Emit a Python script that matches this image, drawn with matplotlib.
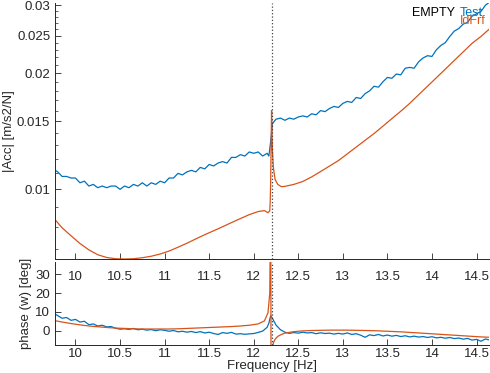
import numpy as np
import matplotlib.pyplot as plt
from matplotlib.ticker import FixedLocator, NullLocator

# measured FRF (Test)
test_freq = [9.75, 9.80, 9.85, 9.90, 9.95, 10.00, 10.05, 10.10, 10.15, 10.20,
             10.25, 10.30, 10.35, 10.40, 10.45, 10.50, 10.55, 10.60, 10.65, 10.70,
             10.75, 10.80, 10.85, 10.90, 10.95, 11.00, 11.05, 11.10, 11.15, 11.20,
             11.25, 11.30, 11.35, 11.40, 11.45, 11.50, 11.55, 11.60, 11.65, 11.70,
             11.75, 11.80, 11.85, 11.90, 11.95, 12.00, 12.05, 12.10, 12.15, 12.17,
             12.19, 12.21, 12.25, 12.30, 12.35, 12.40, 12.45, 12.50, 12.55, 12.60,
             12.65, 12.70, 12.75, 12.80, 12.85, 12.90, 12.95, 13.00, 13.05, 13.10,
             13.15, 13.20, 13.25, 13.30, 13.35, 13.40, 13.45, 13.50, 13.55, 13.60,
             13.65, 13.70, 13.75, 13.80, 13.85, 13.90, 13.95, 14.00, 14.05, 14.10,
             14.15, 14.20, 14.25, 14.30, 14.35, 14.40, 14.45, 14.50, 14.55, 14.60,
             14.65]
test_mag = [0.0113, 0.0111, 0.0108, 0.0108, 0.0107, 0.0107, 0.0104, 0.0105, 0.0102, 0.0103,
            0.0101, 0.0102, 0.0101, 0.0102, 0.0102, 0.0100, 0.0102, 0.0101, 0.0103, 0.0102,
            0.0104, 0.0102, 0.0104, 0.0103, 0.0105, 0.0104, 0.0107, 0.0107, 0.0110, 0.0109,
            0.0111, 0.0112, 0.0111, 0.0114, 0.0113, 0.0116, 0.0115, 0.0117, 0.0118, 0.0117,
            0.0121, 0.0121, 0.0123, 0.0122, 0.0125, 0.0124, 0.0125, 0.0122, 0.0124, 0.0122,
            0.0133, 0.0148, 0.0152, 0.0153, 0.0151, 0.0153, 0.0152, 0.0154, 0.0155, 0.0154,
            0.0157, 0.0156, 0.0160, 0.0159, 0.0162, 0.0164, 0.0163, 0.0167, 0.0169, 0.0168,
            0.0173, 0.0172, 0.0177, 0.0180, 0.0185, 0.0184, 0.0190, 0.0195, 0.0194, 0.0199,
            0.0198, 0.0206, 0.0207, 0.0206, 0.0214, 0.0219, 0.0222, 0.0221, 0.0230, 0.0236,
            0.0240, 0.0249, 0.0257, 0.0261, 0.0268, 0.0271, 0.0281, 0.0285, 0.0289, 0.0300,
            0.0306]
test_phase = [9.5, 8.0, 6.6, 7.0, 5.5, 6.0, 4.6, 5.0, 3.2, 3.6,
              2.5, 2.9, 2.0, 2.2, 1.3, 0.8, 1.0, 0.7, 1.2, 0.5,
              0.8, 0.3, 0.6, 0.0, 0.5, 0.2, -0.3, 0.1, -0.6, -0.3,
              -0.8, -0.4, -1.0, -0.5, -1.2, -0.8, -1.5, -2.0, -1.0, -1.4,
              -0.9, -1.8, -1.6, -1.9, -1.7, -1.5, -0.9, -0.2, 1.8, 4.0,
              8.0, 6.5, 3.0, 0.5, -0.8, -1.4, -1.0, -1.3, -0.8, -1.2,
              -1.0, -1.6, -1.1, -1.5, -1.3, -1.8, -1.4, -1.8, -1.2, -2.0,
              -1.6, -2.4, -3.5, -2.2, -2.6, -2.0, -2.8, -2.3, -2.9, -2.5,
              -3.1, -2.7, -3.3, -2.9, -3.4, -3.1, -3.6, -3.2, -3.8, -3.5,
              -4.0, -3.6, -4.2, -3.9, -4.5, -4.1, -5.0, -4.6, -5.6, -4.4,
              -5.0]

# identified FRF (IdFrf)
fit_freq = [9.75, 9.85, 9.95, 10.05, 10.15, 10.25, 10.35, 10.45, 10.55, 10.65,
            10.75, 10.85, 10.95, 11.05, 11.15, 11.25, 11.35, 11.45, 11.55, 11.65,
            11.75, 11.85, 11.95, 12.05, 12.12, 12.16, 12.18, 12.185, 12.19, 12.195,
            12.20, 12.205, 12.21, 12.22, 12.24, 12.27, 12.31, 12.35, 12.45, 12.55,
            12.65, 12.75, 12.85, 12.95, 13.05, 13.15, 13.25, 13.35, 13.45, 13.55,
            13.65, 13.75, 13.85, 13.95, 14.05, 14.15, 14.25, 14.35, 14.45, 14.55,
            14.65]
fit_mag = [0.00845, 0.00795, 0.00758, 0.00724, 0.00697, 0.00677, 0.00666, 0.00661, 0.00660, 0.00661,
           0.00665, 0.00671, 0.00680, 0.00692, 0.00708, 0.00725, 0.00744, 0.00763, 0.00781, 0.00800,
           0.00820, 0.00840, 0.00860, 0.00876, 0.00881, 0.00870, 0.00880, 0.00930, 0.01050, 0.01300,
           0.01600, 0.01400, 0.01260, 0.01140, 0.01060, 0.01030, 0.01016, 0.01018, 0.01030, 0.01048,
           0.01077, 0.01112, 0.01149, 0.01187, 0.01236, 0.01287, 0.01340, 0.01395, 0.01458, 0.01525,
           0.01594, 0.01670, 0.01758, 0.01850, 0.01947, 0.02049, 0.02157, 0.02270, 0.02390, 0.02490,
           0.02610]
fit_phase = [5.5, 4.6, 3.8, 3.1, 2.5, 2.1, 1.7, 1.4, 1.2, 1.0,
             0.9, 0.9, 0.9, 0.9, 1.0, 1.2, 1.4, 1.6, 1.8, 2.0,
             2.2, 2.5, 2.9, 3.6, 5.2, 9.5, 20.0, 45.0, 80.0, -40.0,
             -30.0, -20.0, -10.0, -6.5, -4.5, -3.0, -2.0, -1.3, -0.5, -0.1,
             0.1, 0.2, 0.3, 0.3, 0.3, 0.2, 0.1, 0.0, -0.2, -0.4,
             -0.6, -0.9, -1.2, -1.5, -1.8, -2.1, -2.4, -2.7, -3.0, -3.3,
             -3.5]

f_res = 12.2
mag_ticks = [0.01, 0.015, 0.02, 0.025, 0.03]
mag_tick_labels = ['0.01', '0.015', '0.02', '0.025', '0.03']
mag_minor = [0.007, 0.008, 0.009, 0.011, 0.012, 0.013, 0.014, 0.016, 0.017, 0.018,
             0.019, 0.021, 0.022, 0.023, 0.024, 0.026, 0.027, 0.028, 0.029]
freq_ticks = [10, 10.5, 11, 11.5, 12, 12.5, 13, 13.5, 14, 14.5]
freq_tick_labels = ['10', '10.5', '11', '11.5', '12', '12.5', '13', '13.5', '14', '14.5']
phase_ticks = [0, 10, 20, 30]

BLUE = '#0072BD'
ORANGE = '#D95319'
DARK = '#262626'

plt.rcParams['font.family'] = ['Liberation Sans', 'DejaVu Sans']

W, H = 490, 373
fig = plt.figure(figsize=(W / 100, H / 100), dpi=100)

ax1 = fig.add_axes([55 / W, 1 - 259 / H, 434 / W, 256 / H])
ax2 = fig.add_axes([55 / W, 1 - 345 / H, 434 / W, 83 / H])
ax2.patch.set_visible(False)

# magnitude
ax1.plot(test_freq, test_mag, color=BLUE, lw=0.9)
ax1.plot(fit_freq, fit_mag, color=ORANGE, lw=0.9)
ax1.axvline(f_res, color='#404040', ls=':', lw=0.9)
ax1.set_yscale('log')
ax1.set_xlim(9.77, 14.64)
ax1.set_ylim(0.0066, 0.0304)
ax1.yaxis.set_major_locator(FixedLocator(mag_ticks))
ax1.set_yticklabels(mag_tick_labels)
ax1.yaxis.set_minor_locator(FixedLocator(mag_minor))
ax1.yaxis.set_minor_formatter(plt.NullFormatter())
ax1.set_xticks(freq_ticks)
ax1.set_xticklabels(freq_tick_labels)
ax1.xaxis.set_minor_locator(NullLocator())
ax1.set_ylabel('|Acc| [m/s2/N]', fontsize=9.5, color=DARK, va='center')
ax1.yaxis.set_label_coords(-0.107, 0.5)

# phase
ax2.plot(test_freq, test_phase, color=BLUE, lw=0.9)
ax2.plot(fit_freq, fit_phase, color=ORANGE, lw=0.9)
ax2.axvline(f_res, color='#404040', ls=':', lw=0.9)
ax2.set_xlim(9.77, 14.64)
ax2.set_ylim(-7.6, 36.5)
ax2.set_yticks(phase_ticks)
ax2.set_xticks(freq_ticks)
ax2.set_xticklabels(freq_tick_labels)
ax2.set_ylabel('phase (w) [deg]', fontsize=9.5, color=DARK, va='center')
ax2.yaxis.set_label_coords(-0.067, 0.5)
ax2.set_xlabel('Frequency [Hz]', fontsize=9.5, color=DARK, va='center')
ax2.xaxis.set_label_coords(0.5, -0.25)

for ax in (ax1, ax2):
    for s in ('top', 'right'):
        ax.spines[s].set_visible(False)
    for s in ('left', 'bottom'):
        ax.spines[s].set_color(DARK)
        ax.spines[s].set_linewidth(0.7)
    ax.tick_params(which='major', direction='in', length=4, width=0.6,
                   colors=DARK, labelsize=9.5)
    ax.tick_params(which='minor', direction='in', length=2.5, width=0.5, colors=DARK)

ax1.tick_params(axis='x', pad=9)
ax2.tick_params(axis='x', pad=2)

# legend-like labels
fig.text(412 / W, 1 - 16 / H, 'EMPTY', color='black', fontsize=9, va='baseline')
fig.text(460 / W, 1 - 16 / H, 'Test', color=BLUE, fontsize=9, va='baseline')
fig.text(460 / W, 1 - 24 / H, 'IdFrf', color=ORANGE, fontsize=9, va='baseline')

fig.savefig('out.png', dpi=100)
